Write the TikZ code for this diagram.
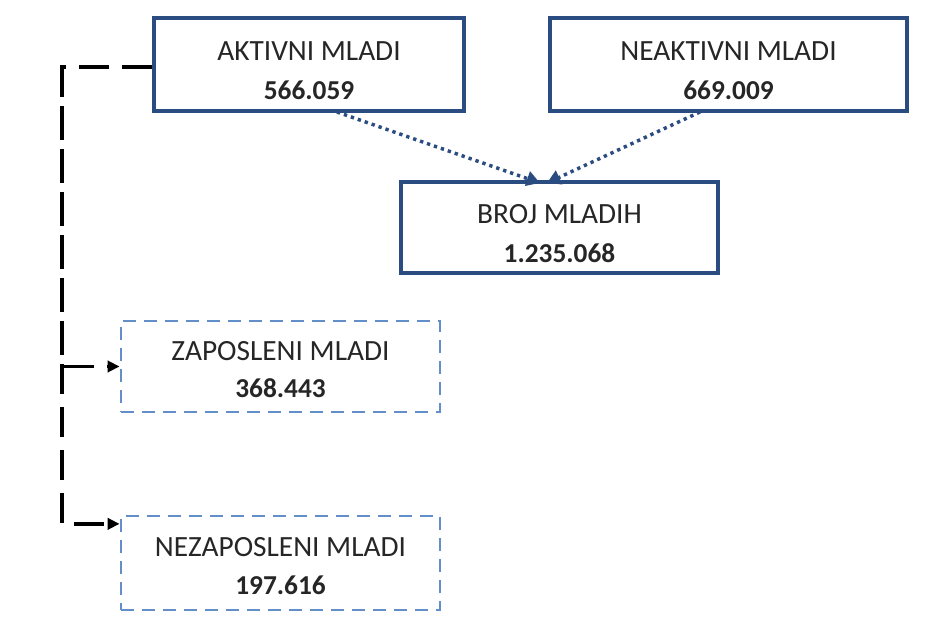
\documentclass[tikz,border=0pt]{standalone}
\usepackage{fontspec}
\setmainfont{Carlito}
\usetikzlibrary{arrows.meta}
\definecolor{navy}{RGB}{42,76,128}
\definecolor{lightblue}{RGB}{98,143,200}
\newcommand{\numtxt}[1]{{\fontsize{20.5pt}{29pt}\selectfont\bfseries #1}}
\newcommand{\firstln}{\rule{0pt}{23pt}}
\tikzset{
  solidbox/.style={draw=navy, line width=2.9pt, fill=white, align=center, inner sep=0pt,
    font=\fontsize{22pt}{29.5pt}\selectfont, text=black!85},
  dashbox/.style={draw=lightblue, line width=2.2pt, dash pattern=on 9.75pt off 6pt, fill=white,
    align=center, inner sep=0pt, font=\fontsize{22pt}{28pt}\selectfont, text=black!85},
  conn/.style={draw=black, line width=2.5pt, dash pattern=on 22.5pt off 9.75pt,
    -{Triangle[length=9pt,width=8.5pt]}},
  dotarrow/.style={draw=navy, line width=2.6pt, dash pattern=on 2.5pt off 3pt,
    -{Triangle[length=10pt,width=11pt]}}
}
\begin{document}
\begin{tikzpicture}[x=0.75pt,y=-0.75pt]
\useasboundingbox (0,0) rectangle (940,631);
\node[solidbox, minimum width=232.5pt, minimum height=69.75pt] (akt) at (309,64.5)
  {\firstln AKTIVNI MLADI\\\numtxt{566.059}};
\node[solidbox, minimum width=267.75pt, minimum height=69.75pt] (neakt) at (728.5,64.5)
  {\firstln NEAKTIVNI MLADI\\\numtxt{669.009}};
\node[solidbox, minimum width=237.75pt, minimum height=68.25pt] (broj) at (559.5,227.5)
  {\firstln BROJ MLADIH\\\numtxt{1.235.068}};
\node[dashbox, minimum width=239.25pt, minimum height=68.25pt] (zap) at (280.5,366.5)
  {\rule{0pt}{19pt}ZAPOSLENI MLADI\\\numtxt{368.443}};
\node[dashbox, minimum width=239.25pt, minimum height=70.5pt] (nez) at (280.5,563)
  {\rule{0pt}{19pt}NEZAPOSLENI MLADI\\\numtxt{197.616}};
\coordinate (a1) at (337,112);
\coordinate (a2) at (700,112);
\coordinate (b1) at (540,183);
\coordinate (b2) at (547,183);
\draw[dotarrow] (a1) -- (b1);
\draw[dotarrow] (a2) -- (b2);
\coordinate (corner) at (62,67);
\coordinate (nezin) at ([yshift=-7pt]nez.north west);
\draw[conn] (akt.west |- corner) -- (corner) |- (nezin);
\draw[conn] (corner) |- (zap.west);
\end{tikzpicture}
\end{document}
